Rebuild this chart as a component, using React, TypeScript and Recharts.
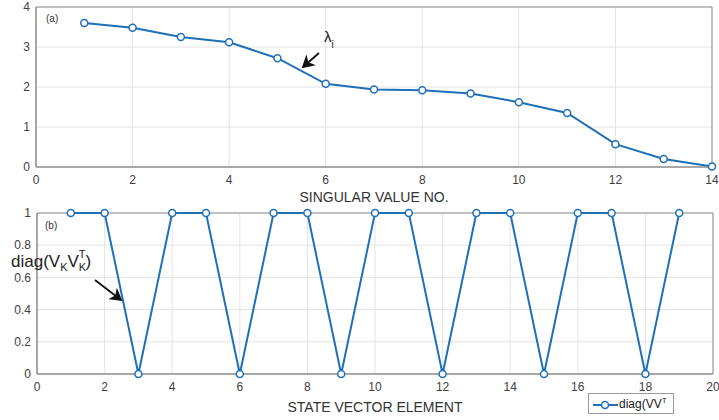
import { LineChart, Line, XAxis, YAxis, CartesianGrid, ReferenceArea, Legend } from 'recharts';

// (a) singular values
const singularValueNo = [1, 2, 3, 4, 5, 6, 7, 8, 9, 10, 11, 12, 13, 14];
const singularValues = [3.6, 3.48, 3.25, 3.12, 2.72, 2.08, 1.94, 1.92, 1.84, 1.62, 1.35, 0.57, 0.2, 0.01];
const topXTicks = [0, 2, 4, 6, 8, 10, 12, 14];
const topYTicks = [0, 1, 2, 3, 4];

// (b) diag(Vk Vk^T)
const stateVectorElement = [1, 2, 3, 4, 5, 6, 7, 8, 9, 10, 11, 12, 13, 14, 15, 16, 17, 18, 19];
const diagValues = [1, 1, 0, 1, 1, 0, 1, 1, 0, 1, 1, 0, 1, 1, 0, 1, 1, 0, 1];
const bottomXTicks = [0, 2, 4, 6, 8, 10, 12, 14, 16, 18, 20];
const bottomYTicks = [0, 0.2, 0.4, 0.6, 0.8, 1];

const BLUE = '#1f70b6';
const AXIS = '#8f8f8f';
const GRID = '#e4e4e4';
const TICK = { fill: '#404040', fontSize: 12 };

const topData = singularValueNo.map((n, i) => ({ n, value: singularValues[i] }));
const bottomData = stateVectorElement.map((n, i) => ({ n, value: diagValues[i] }));

const dotStyle = { r: 3.5, fill: '#ffffff', stroke: BLUE, strokeWidth: 1.5 };

// Legend box, bottom right of panel (b)
const DiagLegend = () => (
    <div
        style={{
            display: 'flex',
            alignItems: 'center',
            width: 86,
            height: 21,
            border: '1px solid #9a9a9a',
            background: '#fff',
            boxSizing: 'border-box',
            fontSize: 12,
            color: '#222',
            whiteSpace: 'nowrap',
            overflow: 'hidden',
        }}
    >
        <svg width={30} height={18} style={{ flex: 'none' }}>
            <line x1={4} y1={10} x2={29} y2={10} stroke={BLUE} strokeWidth={2} />
            <circle cx={16} cy={10} r={3.5} fill="#fff" stroke={BLUE} strokeWidth={1.5} />
        </svg>
        <span>
            diag(VV<sup style={{ fontSize: 8 }}>T</sup>
        </span>
    </div>
);

export default function App() {
    return (
        <div
            style={{
                position: 'absolute',
                left: 0,
                top: 0,
                width: 719,
                height: 420,
                background: '#fff',
                overflow: 'hidden',
                fontFamily: '"Liberation Sans", Arial, sans-serif',
            }}
        >
            <div style={{ position: 'absolute', left: 0, top: 0 }}>
                <LineChart width={719} height={210} data={topData} margin={{ top: 7, right: 7, bottom: 23, left: 6 }}>
                    <CartesianGrid stroke={GRID} />
                    <ReferenceArea x1={0} x2={14} y1={0} y2={4} fill="none" stroke={AXIS} ifOverflow="visible" />
                    <XAxis
                        dataKey="n"
                        type="number"
                        domain={[0, 14]}
                        ticks={topXTicks}
                        interval={0}
                        height={20}
                        tickLine={false}
                        axisLine={{ stroke: AXIS }}
                        tick={TICK}
                        label={{ value: 'SINGULAR VALUE NO.', position: 'bottom', offset: 5, fill: '#333', fontSize: 14 }}
                    />
                    <YAxis
                        type="number"
                        domain={[0, 4]}
                        ticks={topYTicks}
                        interval={0}
                        width={30}
                        tickLine={false}
                        tickSize={4}
                        axisLine={{ stroke: AXIS }}
                        tick={TICK}
                    />
                    <Line
                        type="linear"
                        dataKey="value"
                        stroke={BLUE}
                        strokeWidth={2}
                        dot={dotStyle}
                        activeDot={false}
                        isAnimationActive={false}
                    />
                </LineChart>
            </div>
            <div style={{ position: 'absolute', left: 0, top: 200 }}>
                <LineChart width={719} height={220} data={bottomData} margin={{ top: 13, right: 6, bottom: 26, left: 7 }}>
                    <CartesianGrid stroke={GRID} />
                    <ReferenceArea x1={0} x2={20} y1={0} y2={1} fill="none" stroke={AXIS} ifOverflow="visible" />
                    <XAxis
                        dataKey="n"
                        type="number"
                        domain={[0, 20]}
                        ticks={bottomXTicks}
                        interval={0}
                        height={20}
                        tickLine={false}
                        axisLine={{ stroke: AXIS }}
                        tick={TICK}
                        label={{ value: 'STATE VECTOR ELEMENT', position: 'bottom', offset: 8, fill: '#333', fontSize: 14 }}
                    />
                    <YAxis
                        type="number"
                        domain={[0, 1]}
                        ticks={bottomYTicks}
                        interval={0}
                        width={30}
                        tickLine={false}
                        tickSize={4}
                        axisLine={{ stroke: AXIS }}
                        tick={TICK}
                    />
                    <Legend
                        layout="horizontal"
                        verticalAlign="middle"
                        align="center"
                        content={<DiagLegend />}
                        wrapperStyle={{ left: 588, top: 193, width: 86, height: 21 }}
                    />
                    <Line
                        type="linear"
                        dataKey="value"
                        name="diag(VV^T"
                        stroke={BLUE}
                        strokeWidth={2}
                        dot={dotStyle}
                        activeDot={false}
                        isAnimationActive={false}
                    />
                </LineChart>
            </div>
            {/* annotations */}
            <svg
                width={719}
                height={420}
                style={{ position: 'absolute', left: 0, top: 0, pointerEvents: 'none' }}
            >
                <defs>
                    <marker id="arrowHead" markerWidth={8} markerHeight={8} refX={6} refY={4} orient="auto">
                        <path d="M0,0 L7,4 L0,8 L2,4 Z" fill="#111" />
                    </marker>
                </defs>
                <text x={46} y={22} fontSize={10} fill="#333">(a)</text>
                <text x={45} y={229} fontSize={10} fill="#333">(b)</text>

                <text x={324} y={42} fontSize={15} fill="#222">
                    λ<tspan fontSize={10} dy={6}>i</tspan>
                </text>
                <line x1={319} y1={53} x2={303} y2={67} stroke="#111" strokeWidth={1.8} markerEnd="url(#arrowHead)" />

                <text x={11} y={267} fontSize={17} fill="#222">
                    diag(V<tspan fontSize={11} dy={4}>K</tspan>
                    <tspan dy={-4}>V</tspan>
                    <tspan fontSize={11} dy={4}>K</tspan>
                    <tspan fontSize={11} dx={-7.3} dy={-13}>T</tspan>
                    <tspan dy={9}>)</tspan>
                </text>
                <line x1={95} y1={280} x2={121} y2={300} stroke="#111" strokeWidth={1.8} markerEnd="url(#arrowHead)" />
            </svg>
        </div>
    );
}
